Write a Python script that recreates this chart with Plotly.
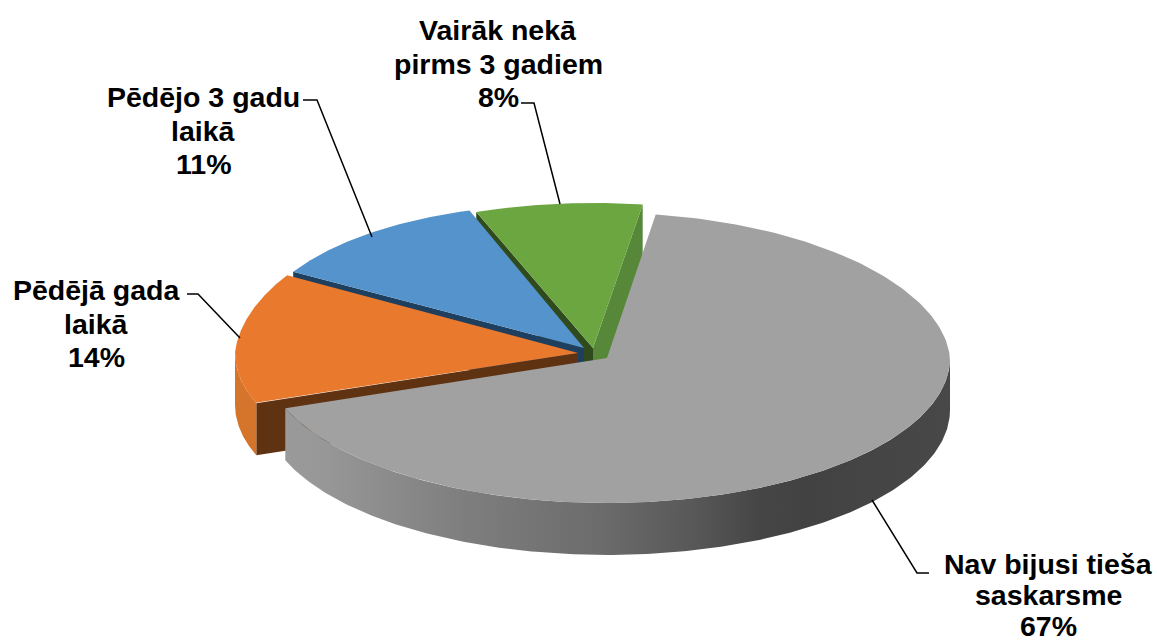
import numpy as np
import plotly.graph_objects as go

categories = [["Nav bijusi tieša", "saskarsme"], ["Pēdējā gada", "laikā"], ["Pēdējo 3 gadu", "laikā"], ["Vairāk nekā", "pirms 3 gadiem"]]
values = [67, 14, 11, 8]
top_colors = ["#a1a1a1", "#e8792d", "#5593cd", "#6ca641"]
radial_colors = ["#7a7a7a", "#5f3212", "#1f3f5f", "#2f4a1c"]
side_colors = ["#8a8a8a", "#d5742b", "#4a80b5", "#57883a"]
apex_x = [607, 578, 584, 593]
apex_y = [358, 353, 348, 348]
label_x = [1048, 96, 203, 498]
label_y = [564, 290, 97, 30]
label_pitch = [31, 33.5, 33.5, 33.5]
leaders_x = [[872, 917, 929], [240, 198, 187], [372, 317, 303], [560, 534, 521]]
leaders_y = [[500, 573, 573], [338, 294, 294], [237, 100, 100], [204, 103, 103]]

START = 8.5
A, B, DEPTH = 343, 145, 52
NARROW = [0.04, 0.04, 0.04, 0.02]
BULGE = [0, 0.28, 0.2, 0]
W, H = 1157, 642


def rim(i, t):
    t = np.radians(np.asarray(t, dtype=float))
    c = np.cos(t)
    far = np.clip(c, 0, None)
    x = apex_x[i] + A * np.sin(t) * (1 - NARROW[i] * far)
    y = apex_y[i] - B * c * (1 + BULGE[i] * far * (1 - far))
    return x, y


fig = go.Figure()


def poly(x, y, color=None, grad=None):
    kw = dict(fillgradient=grad) if grad else dict(fillcolor=color)
    fig.add_trace(go.Scatter(x=list(x) + [x[0]], y=list(y) + [y[0]], mode="lines", fill="toself",
                             line=dict(width=0), hoverinfo="skip", showlegend=False, **kw))


total = sum(values)
spans = []
a = START
for v in values:
    spans.append((a, a + 360 * v / total))
    a = spans[-1][1]

gray_grad = dict(type="horizontal", colorscale=[
    [0, "#9a9a9a"], [0.06, "#979797"], [0.25, "#808080"], [0.48, "#6b6b6b"],
    [0.62, "#575757"], [0.71, "#464646"], [0.78, "#424242"], [1, "#484848"]])

for i in [3, 2, 1, 0]:
    t0, t1 = spans[i]
    ax, ay = apex_x[i], apex_y[i]
    if i == 3:
        x, y = rim(i, t1)
        poly([ax, x, x, ax], [ay, y, y + DEPTH, ay + DEPTH], color="#57883a")
        x, y = rim(i, t0)
        poly([ax, x, x, ax], [ay, y, y + DEPTH, ay + DEPTH], color=radial_colors[i])
    elif i in (1, 2):
        x, y = rim(i, t0)
        poly([ax, x, x, ax], [ay, y, y + DEPTH, ay + DEPTH], color=radial_colors[i])
    lo, hi = max(t0, 90), min(t1, 270)
    if hi > lo:
        ts = np.linspace(lo, hi, 200)
        x, y = rim(i, ts)
        xs = np.concatenate([x, x[::-1]])
        ys = np.concatenate([y, (y + DEPTH)[::-1]])
        if i == 0:
            poly(xs, ys, grad=gray_grad)
        else:
            poly(xs, ys, color=side_colors[i])
    ts = np.linspace(t0, t1, 240)
    x, y = rim(i, ts)
    poly(np.concatenate([[ax], x]), np.concatenate([[ay], y]), color=top_colors[i])

for lx, ly in zip(leaders_x, leaders_y):
    fig.add_trace(go.Scatter(x=lx, y=ly, mode="lines", line=dict(color="#000000", width=1.5),
                             hoverinfo="skip", showlegend=False))

for i, cat in enumerate(categories):
    for j, line in enumerate(cat + [f"{values[i]}%"]):
        fig.add_annotation(x=label_x[i], y=label_y[i] + j * label_pitch[i], xanchor="center", yanchor="middle",
                           text=f"<b>{line}</b>", showarrow=False,
                           font=dict(family="Liberation Sans", size=28.5, color="#000000"))

fig.update_xaxes(visible=False, range=[0, W], fixedrange=True)
fig.update_yaxes(visible=False, range=[H, 0], fixedrange=True)
fig.update_layout(width=W, height=H, margin=dict(l=0, r=0, t=0, b=0),
                  paper_bgcolor="white", plot_bgcolor="white", showlegend=False)
fig.write_html("out.html", config={"displayModeBar": False},
               post_script="document.body.style.margin='0';document.body.style.overflow='hidden';")
